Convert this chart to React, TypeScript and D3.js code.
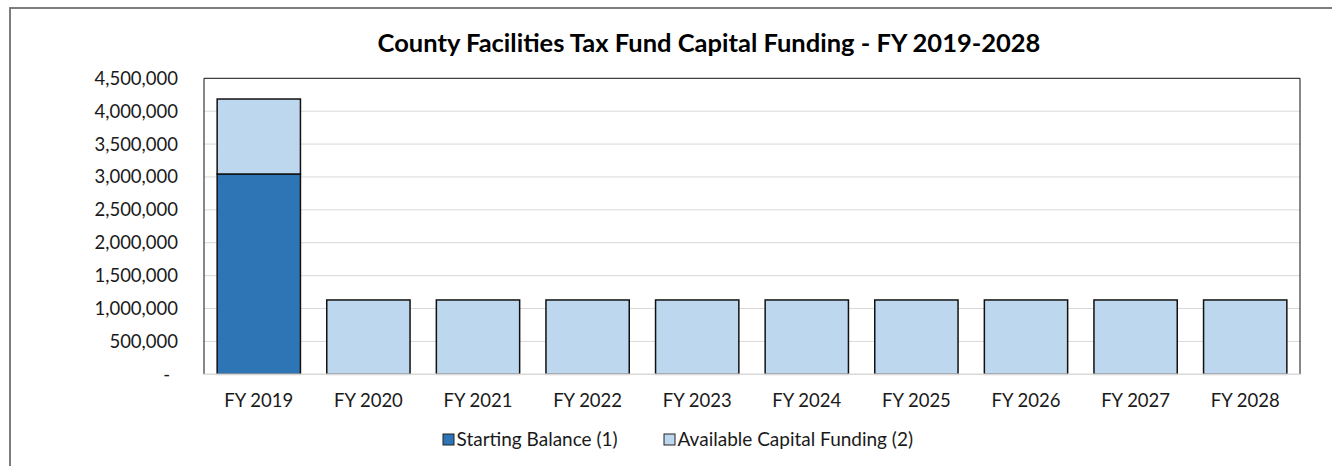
import React from "react";
import * as d3 from "d3";

const categories = ["FY 2019", "FY 2020", "FY 2021", "FY 2022", "FY 2023", "FY 2024", "FY 2025", "FY 2026", "FY 2027", "FY 2028"];
const startingBalance = [3045000, 0, 0, 0, 0, 0, 0, 0, 0, 0];
const availableFunding = [1140000, 1130000, 1130000, 1130000, 1130000, 1130000, 1130000, 1130000, 1130000, 1130000];
const yTicks = [0, 500000, 1000000, 1500000, 2000000, 2500000, 3000000, 3500000, 4000000, 4500000];
const seriesNames = ["Starting Balance (1)", "Available Capital Funding (2)"];
const seriesColors = ["#2E75B6", "#BDD7EE"];

const W = 1332;
const H = 466;
const plot = { left: 204, right: 1300, top: 78.3, bottom: 374.3 };
const FONT = "Lato, Carlito, Calibri, 'Open Sans', sans-serif";

export default function App() {
  const x = d3
    .scaleBand<string>()
    .domain(categories)
    .range([plot.left, plot.right])
    .paddingInner(0.24)
    .paddingOuter(0.12);
  const y = d3.scaleLinear().domain([0, 4500000]).range([plot.bottom, plot.top]);

  const rows = categories.map((c, i) => ({ cat: c, s0: startingBalance[i], s1: availableFunding[i] }));
  const stacked = d3.stack<any>().keys(["s0", "s1"])(rows);
  const fmt = d3.format(",");

  return (
    <svg width={W} height={H} style={{ position: "absolute", left: 0, top: 0, background: "#fff" }} fontFamily={FONT}>
      <rect x={0} y={0} width={W} height={H} fill="#fff" />
      {/* outer chart border */}
      <rect x={10} y={8} width={W + 40} height={H + 40} fill="none" stroke="#6b6b6b" strokeWidth={1.75} />

      {/* title */}
      <text x={709} y={51.5} textAnchor="middle" fontSize={25.5} fontWeight="bold" fill="#000">
        County Facilities Tax Fund Capital Funding - FY 2019-2028
      </text>

      {/* gridlines */}
      {yTicks.filter((t) => t > 0 && t < 4500000).map((t) => (
        <line key={t} x1={plot.left} x2={plot.right} y1={y(t)} y2={y(t)} stroke="#d9d9d9" strokeWidth={1} />
      ))}

      {/* bars */}
      {stacked.map((layer, li) =>
        layer.map((d, i) => {
          const h = y(d[0]) - y(d[1]);
          if (h <= 0) return null;
          return (
            <rect
              key={`${li}-${i}`}
              x={x(categories[i])}
              y={y(d[1])}
              width={x.bandwidth()}
              height={h}
              fill={seriesColors[li]}
              stroke="#111"
              strokeWidth={1.5}
            />
          );
        })
      )}

      {/* plot area border: left, top, right */}
      <path
        d={`M${plot.left},${plot.bottom} V${plot.top} H${plot.right} V${plot.bottom}`}
        fill="none"
        stroke="#111"
        strokeWidth={1}
      />
      {/* x axis line */}
      <line x1={plot.left} x2={plot.right} y1={plot.bottom} y2={plot.bottom} stroke="#d9d9d9" strokeWidth={1.5} />

      {/* y labels */}
      {yTicks.map((t) => (
        <text
          key={t}
          x={t === 0 ? 170 : 178}
          y={y(t)}
          dy="0.35em"
          textAnchor="end"
          fontSize={18.5}
          fill="#1a1a1a"
        >
          {t === 0 ? "-" : fmt(t)}
        </text>
      ))}

      {/* x labels */}
      {categories.map((c) => (
        <text key={c} x={(x(c) as number) + x.bandwidth() / 2} y={407} textAnchor="middle" fontSize={18.5} fill="#1a1a1a">
          {c}
        </text>
      ))}

      {/* legend */}
      {[443, 664].map((lx, i) => (
        <g key={i}>
          <rect x={lx} y={434} width={11} height={11} fill={seriesColors[i]} stroke="#222" strokeWidth={1} />
          <text x={lx + 13.5} y={446} fontSize={19} fill="#1a1a1a">
            {seriesNames[i]}
          </text>
        </g>
      ))}
    </svg>
  );
}
